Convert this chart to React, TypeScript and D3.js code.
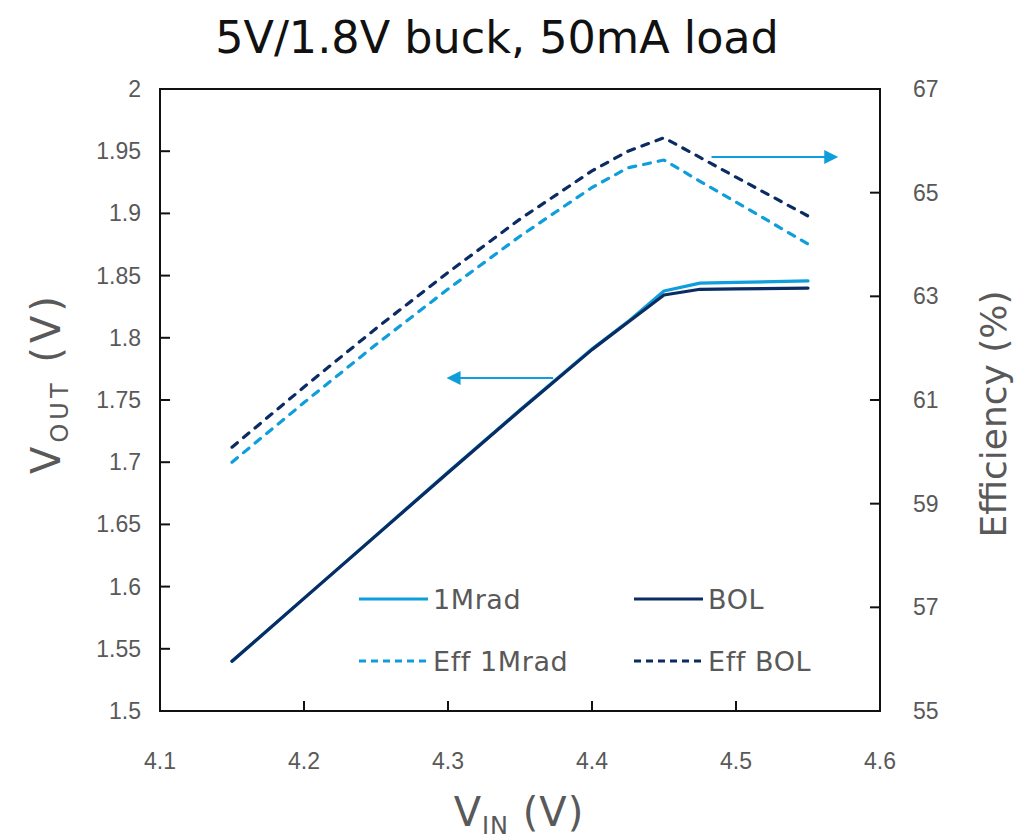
import * as d3 from "d3"

// measured input voltage points (V)
const vin = [4.15, 4.2, 4.25, 4.3, 4.35, 4.4, 4.425, 4.45, 4.475, 4.5, 4.55]

// output voltage (V)
const voutBOL = [1.540, 1.5905, 1.641, 1.6915, 1.7415, 1.7905, 1.8125, 1.8344, 1.839, 1.8393, 1.840]
const vout1Mrad = [1.540, 1.5905, 1.6412, 1.692, 1.742, 1.791, 1.813, 1.8376, 1.844, 1.8445, 1.8457]

// efficiency (%)
const effBOL = [60.09, 61.25, 62.38, 63.46, 64.49, 65.42, 65.8, 66.06, 65.68, 65.3, 64.55]
const eff1Mrad = [59.8, 60.95, 62.07, 63.14, 64.16, 65.1, 65.48, 65.63, 65.22, 64.82, 64.01]

const xTicks = [4.1, 4.2, 4.3, 4.4, 4.5, 4.6]
const yLeftTicks = [1.5, 1.55, 1.6, 1.65, 1.7, 1.75, 1.8, 1.85, 1.9, 1.95, 2]
const yRightTicks = [55, 57, 59, 61, 63, 65, 67]

const LIGHT = "#0e9edb"
const DARK = "#0b2c63"
const GREY = "#595959"
const SANS = "'Liberation Sans', Arial, sans-serif"
const GEO = "'DejaVu Sans', 'Noto Sans', sans-serif"

export default function App() {
  const width = 1018
  const height = 840
  const margin = { top: 89, right: 138, bottom: 129, left: 160 }
  const x0 = margin.left
  const x1 = width - margin.right
  const y0 = height - margin.bottom
  const y1 = margin.top

  const x = d3.scaleLinear().domain([4.1, 4.6]).range([x0, x1])
  const yL = d3.scaleLinear().domain([1.5, 2]).range([y0, y1])
  const yR = d3.scaleLinear().domain([55, 67]).range([y0, y1])

  const lineL = d3
    .line<number>()
    .x((_, i) => x(vin[i]))
    .y((d) => yL(d))
  const lineR = d3
    .line<number>()
    .x((_, i) => x(vin[i]))
    .y((d) => yR(d))

  const dash = "7,8"

  // annotation arrows (data space)
  const arrowL = { from: 4.373, to: 4.299, v: 1.7677 }
  const arrowR = { from: 4.483, to: 4.571, v: 65.69 }

  const legend = [
    { label: "1Mrad", color: LIGHT, dashed: false, col: 0, row: 0 },
    { label: "BOL", color: DARK, dashed: false, col: 1, row: 0 },
    { label: "Eff 1Mrad", color: LIGHT, dashed: true, col: 0, row: 1 },
    { label: "Eff BOL", color: DARK, dashed: true, col: 1, row: 1 },
  ]

  return (
    <svg
      width={width}
      height={height}
      style={{ position: "absolute", left: 0, top: 0, background: "#fff" }}
    >
      <text x={497} y={53} textAnchor="middle" fontFamily={GEO} fontSize={44.5} fill="#111">
        5V/1.8V buck, 50mA load
      </text>

      {/* series */}
      <path d={lineR(eff1Mrad) || ""} fill="none" stroke={LIGHT} strokeWidth={3.2} strokeDasharray={dash} strokeLinecap="round" strokeLinejoin="round" />
      <path d={lineR(effBOL) || ""} fill="none" stroke={DARK} strokeWidth={3.2} strokeDasharray={dash} strokeLinecap="round" strokeLinejoin="round" />
      <path d={lineL(vout1Mrad) || ""} fill="none" stroke={LIGHT} strokeWidth={3.2} strokeLinejoin="round" strokeLinecap="round" />
      <path d={lineL(voutBOL) || ""} fill="none" stroke={DARK} strokeWidth={3.2} strokeLinejoin="round" strokeLinecap="round" />

      {/* arrows */}
      <line x1={x(arrowL.from)} x2={x(arrowL.to) + 12} y1={yL(arrowL.v)} y2={yL(arrowL.v)} stroke={LIGHT} strokeWidth={2} />
      <path d={`M${x(arrowL.to)},${yL(arrowL.v)} l14,-7 l0,14 z`} fill={LIGHT} />
      <line x1={x(arrowR.from)} x2={x(arrowR.to) - 12} y1={yR(arrowR.v)} y2={yR(arrowR.v)} stroke={LIGHT} strokeWidth={2} />
      <path d={`M${x(arrowR.to)},${yR(arrowR.v)} l-14,-7 l0,14 z`} fill={LIGHT} />

      {/* frame */}
      <rect x={x0} y={y1} width={x1 - x0} height={y0 - y1} fill="none" stroke="#111" strokeWidth={2} />

      {/* x ticks */}
      {xTicks.map((t) => (
        <g key={"x" + t}>
          <line x1={x(t)} x2={x(t)} y1={y0} y2={y0 - 10} stroke="#111" strokeWidth={2} />
          <text x={x(t)} y={y0 + 58} textAnchor="middle" fontFamily={SANS} fontSize={23} fill={GREY}>
            {t.toString()}
          </text>
        </g>
      ))}

      {/* left ticks */}
      {yLeftTicks.map((t) => (
        <g key={"l" + t}>
          <line x1={x0} x2={x0 + 10} y1={yL(t)} y2={yL(t)} stroke="#111" strokeWidth={2} />
          <text x={x0 - 19} y={yL(t) + 8} textAnchor="end" fontFamily={SANS} fontSize={23} fill={GREY}>
            {t.toString()}
          </text>
        </g>
      ))}

      {/* right ticks */}
      {yRightTicks.map((t) => (
        <g key={"r" + t}>
          <line x1={x1} x2={x1 - 10} y1={yR(t)} y2={yR(t)} stroke="#111" strokeWidth={2} />
          <text x={x1 + 33} y={yR(t) + 8} textAnchor="start" fontFamily={SANS} fontSize={23} fill={GREY}>
            {t.toString()}
          </text>
        </g>
      ))}

      {/* axis titles */}
      <text
        transform={`translate(60,383) rotate(-90)`}
        textAnchor="middle"
        fontFamily={GEO}
        fontSize={40}
        letterSpacing={4}
        fill={GREY}
      >
        V<tspan fontSize={24} dy={8}>OUT</tspan>
        <tspan dy={-8}> (V)</tspan>
      </text>
      <text
        transform={`translate(1006,414) rotate(-90)`}
        textAnchor="middle"
        fontFamily={GEO}
        fontSize={36}
        fill={GREY}
      >
        Efficiency (%)
      </text>
      <text x={519} y={826} textAnchor="middle" fontFamily={GEO} fontSize={40} letterSpacing={1} fill={GREY}>
        V<tspan fontSize={24} dy={8}>IN</tspan>
        <tspan dy={-8}> (V)</tspan>
      </text>

      {/* legend */}
      {legend.map((d) => {
        const lx = 359 + d.col * 275
        const ly = 599 + d.row * 62
        return (
          <g key={d.label}>
            <line
              x1={lx}
              x2={lx + 69}
              y1={ly}
              y2={ly}
              stroke={d.color}
              strokeWidth={3.2}
              strokeDasharray={d.dashed ? "7,5" : undefined}
            />
            <text x={lx + 74} y={ly + 10} fontFamily={GEO} fontSize={27} letterSpacing={0.6} fill={GREY}>
              {d.label}
            </text>
          </g>
        )
      })}
    </svg>
  )
}
